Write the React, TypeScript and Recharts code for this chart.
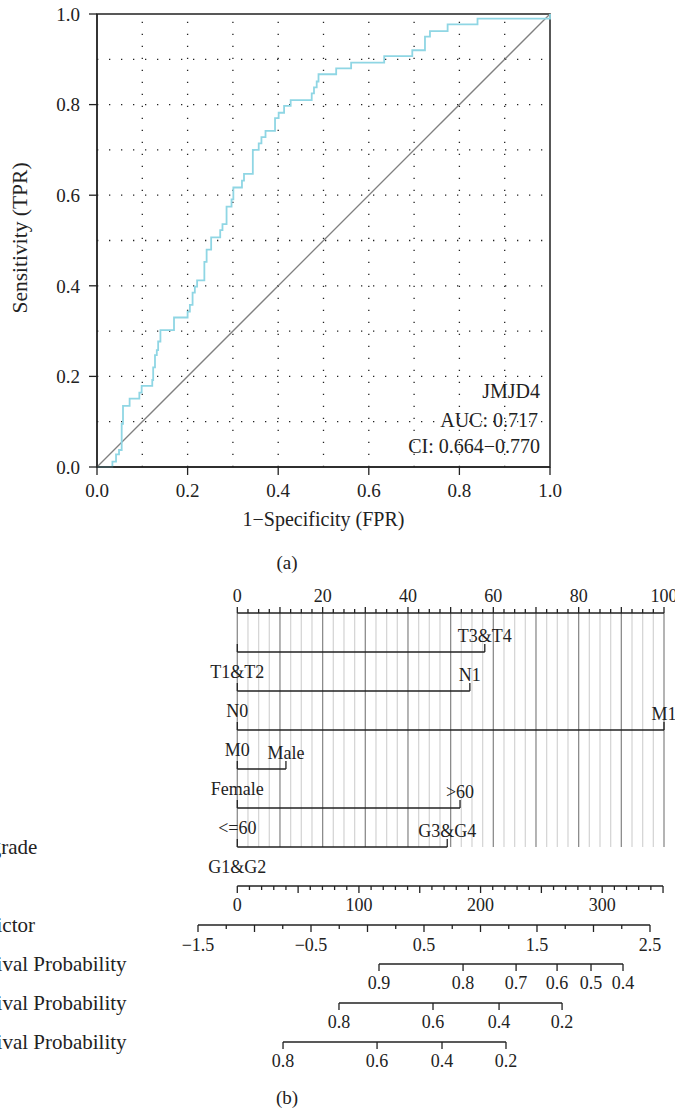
import React from 'react'
import {
  LineChart,
  ComposedChart,
  Line,
  Scatter,
  XAxis,
  YAxis,
  ReferenceLine,
  ReferenceArea,
} from 'recharts'

// ---- ROC curve (a): each point = fpr where the step rises, tpr it reaches
const rocFpr = [0, 0.034, 0.042, 0.0486, 0.0545, 0.0574, 0.072, 0.0935, 0.0986, 0.122, 0.124, 0.128, 0.132, 0.135, 0.14, 0.17, 0.2, 0.205, 0.211, 0.216, 0.221, 0.237, 0.242, 0.252, 0.272, 0.277, 0.286, 0.297, 0.301, 0.32, 0.3245, 0.344, 0.357, 0.363, 0.372, 0.393, 0.401, 0.413, 0.4275, 0.474, 0.479, 0.485, 0.489, 0.528, 0.561, 0.634, 0.696, 0.724, 0.735, 0.774, 0.84, 1.0, 1.0]
const rocTpr = [0, 0.012, 0.028, 0.0375, 0.095, 0.135, 0.151, 0.164, 0.179, 0.192, 0.22, 0.247, 0.258, 0.277, 0.302, 0.33, 0.343, 0.358, 0.385, 0.398, 0.412, 0.453, 0.48, 0.507, 0.523, 0.536, 0.575, 0.591, 0.617, 0.632, 0.647, 0.7, 0.7145, 0.728, 0.742, 0.77, 0.782, 0.797, 0.81, 0.825, 0.838, 0.851, 0.867, 0.88, 0.8925, 0.907, 0.92, 0.95, 0.962, 0.977, 0.99, 0.99, 1.0]
const diagFpr = [0, 1]
const diagTpr = [0, 1]
const rocTicks = [0, 0.2, 0.4, 0.6, 0.8, 1]
const rocGrid = [0.1, 0.2, 0.3, 0.4, 0.5, 0.6, 0.7, 0.8, 0.9]
const rocNotes = ['JMJD4', 'AUC: 0.717', 'CI: 0.664\u22120.770']

// ---- nomogram (b)
const rowLabels = ['Points', 'T', 'N', 'M', 'Gender', 'Age', 'Histologic grade', 'Total Points', 'Linear Predictor', '1-year Survival Probability', '3-year Survival Probability', '5-year Survival Probability']
const shownRowLabels = [6, 8, 9, 10, 11]
const factorLow = ['T1&T2', 'N0', 'M0', 'Female', '<=60', 'G1&G2']
const factorHigh = ['T3&T4', 'N1', 'M1', 'Male', '>60', 'G3&G4']
const factorHighPoints = [58, 54.5, 100, 11.4, 52.2, 49.2]
const pointsLabels = [0, 20, 40, 60, 80, 100]
const totalLabels = [0, 100, 200, 300]
const lpLabels = [-1.5, -0.5, 0.5, 1.5, 2.5]
const surv1Prob = [0.9, 0.8, 0.7, 0.6, 0.5, 0.4]
const surv1Total = [116.5, 185.6, 229.2, 262.9, 290.8, 317.1]
const surv3Prob = [0.8, 0.6, 0.4, 0.2]
const surv3Total = [83.6, 160.9, 215.2, 267.0]
const surv5Prob = [0.8, 0.6, 0.4, 0.2]
const surv5Total = [37.6, 114.9, 168.3, 220.9]

const ink = '#222'
const font = "'Liberation Serif', 'Times New Roman', serif"

const rocData = rocFpr.map((f, i) => ({ fpr: f, tpr: rocTpr[i] }))
const diagData = diagFpr.map((f, i) => ({ fpr: f, tpr: diagTpr[i] }))

const range = (a: number, b: number, step: number) => {
  const out: number[] = []
  for (let v = a; v <= b + 1e-9; v += step) out.push(Math.round(v * 1000) / 1000)
  return out
}
const isMult = (v: number, m: number) => Math.abs(v / m - Math.round(v / m)) < 1e-6

const pointsGrid = range(0, 100, 2.5)
const pointsTicks = pointsGrid.map((v) => ({ x: v, y: 0, major: isMult(v, 10), label: pointsLabels.includes(v) ? String(v) : '' }))
const totalTicks = range(0, 350, 10).map((v) => ({ x: v, y: 7, major: isMult(v, 50), label: totalLabels.includes(v) ? String(v) : '' }))
const lpTicks = range(-1.5, 2.5, 0.25).map((v) => ({ x: v, y: 8, major: isMult(v, 0.5), label: lpLabels.includes(v) ? v.toFixed(1).replace('-', '\u2212') : '' }))
const survTicks = [
  ...surv1Total.map((t, i) => ({ x: t, y: 9, major: true, label: surv1Prob[i].toFixed(1) })),
  ...surv3Total.map((t, i) => ({ x: t, y: 10, major: true, label: surv3Prob[i].toFixed(1) })),
  ...surv5Total.map((t, i) => ({ x: t, y: 11, major: true, label: surv5Prob[i].toFixed(1) })),
]
const lowLevels = factorLow.map((l, i) => ({ x: 0, y: i + 1, major: true, label: l }))
const highLevels = factorHigh.map((l, i) => ({ x: factorHighPoints[i], y: i + 1, major: true, label: l }))

function makeTick(dir: number, majorLen: number, minorLen: number, labelDy: number, size = 18) {
  return (p: any) => {
    const { cx, cy, payload } = p
    if (cx == null || cy == null) return <g />
    const len = payload.major ? majorLen : minorLen
    return (
      <g>
        <line x1={cx} x2={cx} y1={cy} y2={cy + dir * len} stroke={ink} strokeWidth={1.3} />
        {payload.label ? (
          <text x={cx} y={cy + labelDy} textAnchor="middle" fontSize={size} fill={ink} fontFamily={font}>
            {payload.label}
          </text>
        ) : null}
      </g>
    )
  }
}

const RowLabel = (p: any) => (
  <text x={-102} y={p.y} dy="0.35em" fontSize={21} fill={ink} fontFamily={font}>
    {rowLabels[p.payload.value]}
  </text>
)

const seg = (axis: string, a: number, b: number, row: number, key: string) => (
  <Line
    key={key}
    xAxisId={axis}
    yAxisId="row"
    data={[{ x: a, y: row }, { x: b, y: row }]}
    dataKey="y"
    stroke={ink}
    strokeWidth={1.3}
    dot={false}
    activeDot={false}
    isAnimationActive={false}
  />
)

const rocTick = { fontSize: 19, fill: ink, fontFamily: font }

function RocChart() {
  return (
    <LineChart width={675} height={580} margin={{ top: 14, right: 125, bottom: 83, left: 57 }}>
      <XAxis
        type="number"
        dataKey="fpr"
        domain={[0, 1]}
        ticks={rocTicks}
        tickFormatter={(v) => Number(v).toFixed(1)}
        tickSize={8}
        tickMargin={9}
        height={30}
        tick={rocTick}
        axisLine={{ stroke: ink, strokeWidth: 1.3 }}
        tickLine={{ stroke: ink, strokeWidth: 1.3 }}
      />
      <YAxis
        type="number"
        domain={[0, 1]}
        ticks={rocTicks}
        tickFormatter={(v) => Number(v).toFixed(1)}
        tickSize={8}
        tickMargin={9}
        width={40}
        tick={rocTick}
        axisLine={{ stroke: ink, strokeWidth: 1.3 }}
        tickLine={{ stroke: ink, strokeWidth: 1.3 }}
      />
      {rocGrid.map((v) => (
        <ReferenceLine key={'gx' + v} x={v} stroke={ink} strokeWidth={1.3} strokeDasharray="1.3 10.7" />
      ))}
      {rocGrid.map((v) => (
        <ReferenceLine key={'gy' + v} y={v} stroke={ink} strokeWidth={1.3} strokeDasharray="1.3 10.7" />
      ))}
      <ReferenceArea x1={0} x2={1} y1={0} y2={1} fill="none" fillOpacity={0} stroke={ink} strokeWidth={1.5} />
      <Line data={diagData} dataKey="tpr" stroke="#808080" strokeWidth={1.3} dot={false} activeDot={false} isAnimationActive={false} />
      <Line data={rocData} dataKey="tpr" type="stepAfter" stroke="#8fd6e4" strokeWidth={1.8} dot={false} activeDot={false} isAnimationActive={false} />
    </LineChart>
  )
}

function Nomogram() {
  return (
    <ComposedChart width={675} height={538} margin={{ top: 38, right: 11, bottom: 71, left: 197 }}>
      <XAxis xAxisId="pts" type="number" dataKey="x" domain={[-9.21, 100]} hide />
      <XAxis xAxisId="tot" type="number" dataKey="x" domain={[-32.3, 350.8]} hide />
      <XAxis xAxisId="lp" type="number" dataKey="x" domain={[-1.5, 2.624]} hide />
      <YAxis
        yAxisId="row"
        type="number"
        dataKey="y"
        domain={[0, 11]}
        reversed
        width={1}
        axisLine={false}
        tickLine={false}
        ticks={shownRowLabels}
        interval={0}
        tick={RowLabel}
      />
      {pointsGrid.map((v) => (
        <ReferenceLine
          key={'pg' + v}
          xAxisId="pts"
          yAxisId="row"
          segment={[{ x: v, y: 0 }, { x: v, y: 6 }]}
          stroke={isMult(v, 10) ? '#8c8c8c' : '#d6d6d6'}
          strokeWidth={1.3}
        />
      ))}
      {seg('pts', 0, 100, 0, 'ax-pts')}
      {factorHighPoints.map((p, i) => seg('pts', 0, p, i + 1, 'row' + i))}
      {seg('tot', 0, 350, 7, 'ax-tot')}
      {seg('lp', -1.5, 2.5, 8, 'ax-lp')}
      {seg('tot', surv1Total[0], surv1Total[surv1Total.length - 1], 9, 'ax-s1')}
      {seg('tot', surv3Total[0], surv3Total[surv3Total.length - 1], 10, 'ax-s3')}
      {seg('tot', surv5Total[0], surv5Total[surv5Total.length - 1], 11, 'ax-s5')}
      <Scatter xAxisId="pts" yAxisId="row" data={pointsTicks} shape={makeTick(-1, 6, 4, -11)} isAnimationActive={false} />
      <Scatter xAxisId="pts" yAxisId="row" data={lowLevels} shape={makeTick(-1, 8, 8, 26)} isAnimationActive={false} />
      <Scatter xAxisId="pts" yAxisId="row" data={highLevels} shape={makeTick(-1, 8, 8, -10)} isAnimationActive={false} />
      <Scatter xAxisId="tot" yAxisId="row" data={totalTicks} shape={makeTick(1, 7, 4, 25)} isAnimationActive={false} />
      <Scatter xAxisId="lp" yAxisId="row" data={lpTicks} shape={makeTick(1, 7, 4, 26)} isAnimationActive={false} />
      <Scatter xAxisId="tot" yAxisId="row" data={survTicks} shape={makeTick(1, 7, 4, 25)} isAnimationActive={false} />
    </ComposedChart>
  )
}

export default function App() {
  return (
    <div
      style={{
        position: 'absolute',
        left: 0,
        top: 0,
        width: 675,
        height: 1113,
        overflow: 'hidden',
        background: '#fff',
        fontFamily: font,
      }}
    >
      <div style={{ position: 'absolute', left: 0, top: 0 }}>
        <RocChart />
      </div>
      <div style={{ position: 'absolute', left: 0, top: 575 }}>
        <Nomogram />
      </div>
      <svg width={675} height={1113} style={{ position: 'absolute', left: 0, top: 0, pointerEvents: 'none' }} fontFamily={font} fill={ink}>
        <text transform="translate(27,238) rotate(-90)" textAnchor="middle" fontSize={21.5}>
          Sensitivity (TPR)
        </text>
        <text x={323.5} y={526} textAnchor="middle" fontSize={20}>
          1{'\u2212'}Specificity (FPR)
        </text>
        <text x={540} y={398} textAnchor="end" fontSize={20}>{rocNotes[0]}</text>
        <text x={538} y={427} textAnchor="end" fontSize={20}>{rocNotes[1]}</text>
        <text x={540} y={453} textAnchor="end" fontSize={20}>{rocNotes[2]}</text>
        <text x={287} y={569} textAnchor="middle" fontSize={19}>(a)</text>
        <text x={287} y={1104} textAnchor="middle" fontSize={19}>(b)</text>
      </svg>
    </div>
  )
}
